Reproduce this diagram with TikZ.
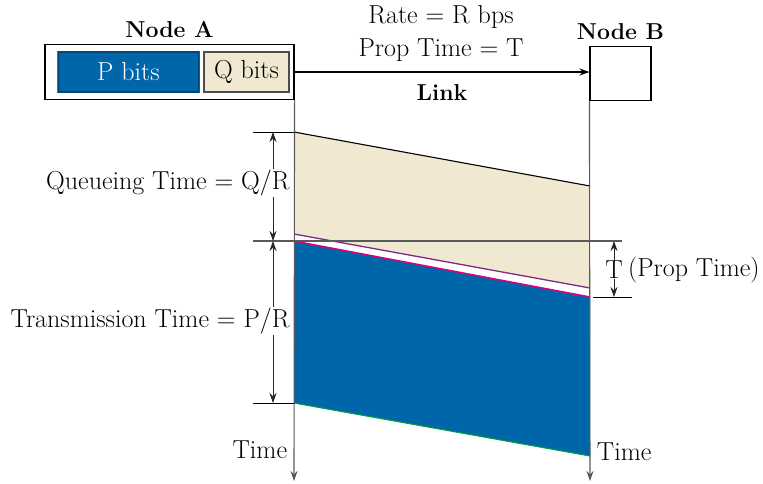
\documentclass[tikz,border=0pt]{standalone}
\usepackage{tikz}
\usepackage{xcolor}
\usetikzlibrary{positioning,arrows.meta}

\definecolor{pblue}{RGB}{0,102,170}
\definecolor{qbeige}{RGB}{240,232,208}
\definecolor{qedge}{RGB}{130,40,130}
\definecolor{pedge}{RGB}{220,0,120}
\definecolor{gedge}{RGB}{0,160,60}
\definecolor{axisgray}{RGB}{90,90,90}

\begin{document}
\begin{tikzpicture}[x=1pt,y=-1pt,line width=1.1pt,>={Stealth[length=10pt,width=7pt]}]
\tikzstyle{every node}+=[font=\fontsize{26}{30}\selectfont]
\tikzstyle{bold}=[font=\fontsize{23}{27}\selectfont\bfseries]
\tikzstyle{box}=[draw,inner sep=0pt]
\tikzstyle{dim}=[<->,black!85,line width=0.8pt]
\tikzstyle{lbl}=[fill=white,inner sep=1pt]
\useasboundingbox (0,0) rectangle (763,483);
% node A with its two packets
\node[box,minimum width=249pt,minimum height=55pt] (A) at (169.5,72) {};
\node[above=2pt of A,bold] (Alab) {Node A};
\node[box,draw=pblue!70!black,fill=pblue,text=white,minimum width=141pt,minimum height=40pt] (P) at (128.5,72) {P bits};
\node[box,draw=black!70,fill=qbeige,minimum width=85pt,minimum height=40pt] (Q) at (246.5,72) {Q bits};
\draw[gedge,line width=1.4pt] (P.north west) -- (P.south west);
\draw[qedge,line width=1.4pt] (P.north east) -- (P.south east);
% node B
\node[box,minimum width=61pt,minimum height=54pt] (B) at (620.5,73.5) {};
\node[above=2pt of B,bold] (Blab) {Node B};
% link
\draw[->] (A.east) -- (A.east -| B.west);
\node (rate) at (441,17) {Rate = R bps};
\node (prop) at (441,50) {Prop Time = T};
\node[bold] (link) at (442,93) {Link};
% packet bits in flight
\coordinate (qa) at (294,132);
\coordinate (qb) at (590,186);
\coordinate (qc) at (590,288);
\coordinate (qd) at (294,234);
\coordinate (pa) at (294,241);
\coordinate (pb) at (590,297);
\coordinate (pc) at (590,456);
\coordinate (pd) at (294,403);
\fill[qbeige] (qa) -- (qb) -- (qc) -- (qd) -- cycle;
\draw (qa) -- (qb);
\draw[qedge,line width=1.3pt] (qd) -- (qc);
\fill[pblue] (pa) -- (pb) -- (pc) -- (pd) -- cycle;
\draw[pedge,line width=1.5pt] (pa) -- (pb);
\draw[gedge,line width=1.1pt] (pd) -- (pc);
% time axes
\draw[axisgray,->] (A.south east) -- (294,481);
\draw[axisgray,->] (B.south west) -- (590,481);
\node[left] (tA) at (291,450) {Time};
\node[right] (tB) at (593,452) {Time};
% reference lines
\draw[axisgray] (253,241) -- (622,241);
\draw[line width=0.8pt] (253,132) -- (qa);
\draw[line width=0.8pt] (253,403) -- (pd);
\draw[line width=0.8pt] (593,297) -- (632,297);
% durations
\draw[dim] (273,132) -- (273,241);
\draw[dim] (273,241) -- (273,403);
\draw[dim] (614,241) -- (614,297);
\node[lbl,anchor=east] (qt) at (291,183) {Queueing Time = Q/R};
\node[lbl,anchor=east] (pt) at (291,321) {Transmission Time = P/R};
\node[lbl,inner sep=0pt] (T) at (614,270) {T};
\node[right=1pt of T] (ptime) {(Prop Time)};
\end{tikzpicture}
\end{document}
